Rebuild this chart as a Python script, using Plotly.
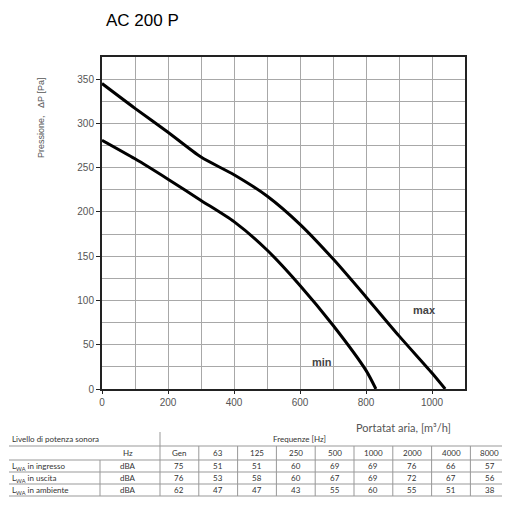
import plotly.graph_objects as go

# ---- data ----
max_flow = [0, 100, 200, 300, 400, 500, 600, 700, 800, 900, 1000, 1040]
max_pres = [345, 317, 290, 262, 242, 218, 186, 147, 104, 60, 18, 0]
min_flow = [0, 100, 200, 300, 400, 500, 600, 700, 800, 830]
min_pres = [281, 260, 237, 213, 189, 157, 117, 72, 21, 0]

table_title = "Livello di potenza sonora"
freq_title = "Frequenze [Hz]"
header = ["Hz", "Gen", "63", "125", "250", "500", "1000", "2000", "4000", "8000"]
row_labels = ["L<sub>WA</sub> in ingresso", "L<sub>WA</sub> in uscita", "L<sub>WA</sub> in ambiente"]
row_units = ["dBA", "dBA", "dBA"]
row_values = [
    [75, 51, 51, 60, 69, 69, 76, 66, 57],
    [76, 53, 58, 60, 67, 69, 72, 67, 56],
    [62, 47, 47, 43, 55, 60, 55, 51, 38],
]

# page has an 8px body margin; figure is drawn at (8, 8)
W, H = 502, 500
L, R, T, B = 94, 45, 49, 119
PW, PH = W - L - R, H - T - B


def px(x):  # page pixel -> paper x
    return (x - 8 - L) / PW


def py(y):  # page pixel -> paper y
    return (H - B - (y - 8)) / PH


fig = go.Figure()
fig.add_trace(go.Scatter(x=max_flow, y=max_pres, mode="lines",
                         line=dict(color="black", width=3, shape="spline", smoothing=0.7), showlegend=False))
fig.add_trace(go.Scatter(x=min_flow, y=min_pres, mode="lines",
                         line=dict(color="black", width=3, shape="spline", smoothing=0.7), showlegend=False))

grid = "#a8a8a8"
fig.update_layout(
    width=W, height=H,
    margin=dict(l=L, r=R, t=T, b=B),
    paper_bgcolor="white", plot_bgcolor="white",
    font=dict(family="Liberation Sans, Arial, sans-serif", color="#444", size=10),
    xaxis=dict(range=[0, 1100], dtick=200, tick0=0, showgrid=True, gridcolor=grid, gridwidth=1,
               minor=dict(dtick=100, showgrid=True, gridcolor=grid, gridwidth=1),
               showline=True, linecolor="#222", linewidth=2, mirror=True,
               ticks="outside", ticklen=3, tickcolor="#222", zeroline=False,
               tickfont=dict(size=10, color="#555")),
    yaxis=dict(range=[0, 375], dtick=50, tick0=0, showgrid=True, gridcolor=grid, gridwidth=1,
               minor=dict(dtick=25, showgrid=True, gridcolor=grid, gridwidth=1),
               showline=True, linecolor="#222", linewidth=2, mirror=True,
               ticks="outside", ticklen=4, tickcolor="#222", zeroline=False,
               tickfont=dict(size=10, color="#555")),
)


def note(text, x, y, xanchor="center", font=None, angle=0):
    return dict(text=text, xref="paper", yref="paper", x=px(x), y=py(y), xanchor=xanchor, yanchor="middle",
                showarrow=False, textangle=angle, font=font or {})


ann = []
ann.append(note("AC 200 P", 104, 21, "left", dict(size=17, color="black", family="Liberation Sans, Arial")))
ann.append(note("Pressione,   ΔP [Pa]", 41, 118, "center", dict(size=9, color="#555"), angle=-90))
ann.append(note("Portatat aria, [m³/h]", 403, 428, "center", dict(size=11, color="#555", family="Lato, sans-serif")))
ann.append(dict(text="<b>max</b>", x=977, y=89, xref="x", yref="y", showarrow=False,
                xanchor="center", yanchor="middle", font=dict(size=11, color="#444")))
ann.append(dict(text="<b>min</b>", x=667, y=30, xref="x", yref="y", showarrow=False,
                xanchor="center", yanchor="middle", font=dict(size=11, color="#444")))

# ---- table ----
tfont = dict(size=8, color="#333", family="Liberation Sans Narrow, Lato, sans-serif")
CW = 38.8
col_edges = [160 + CW * k for k in range(10)]
col_x = [128] + [(a + b) / 2 for a, b in zip(col_edges[:-1], col_edges[1:])]
row_y = [453, 466, 478, 490]
line_y = [446, 460, 472, 484, 496]
ann.append(note(table_title, 10, 439, "left", tfont))
ann.append(note(freq_title, 299, 439, "center", tfont))
for c, h in zip(col_x, header):
    ann.append(note(h, c, row_y[0], "center", tfont))
for r, (lab, unit, vals) in enumerate(zip(row_labels, row_units, row_values)):
    yy = row_y[r + 1]
    ann.append(note(lab, 10, yy, "left", tfont))
    ann.append(note(unit, col_x[0], yy, "center", tfont))
    for c, v in zip(col_x[1:], vals):
        ann.append(note(str(v), c, yy, "center", tfont))

shapes = []
lc = "#999"


def seg(x0, y0, x1, y1):
    return dict(type="line", xref="paper", yref="paper", x0=px(x0), x1=px(x1), y0=py(y0), y1=py(y1),
                line=dict(color=lc, width=1))


for ly in line_y:
    shapes.append(seg(9, ly, 509, ly))
shapes.append(seg(160, 432, 160, 496))
shapes.append(seg(100, 460, 100, 496))
for e in col_edges[1:-1]:
    shapes.append(seg(e, 446, e, 496))

fig.update_layout(annotations=ann, shapes=shapes)
fig.write_html("out.html")
